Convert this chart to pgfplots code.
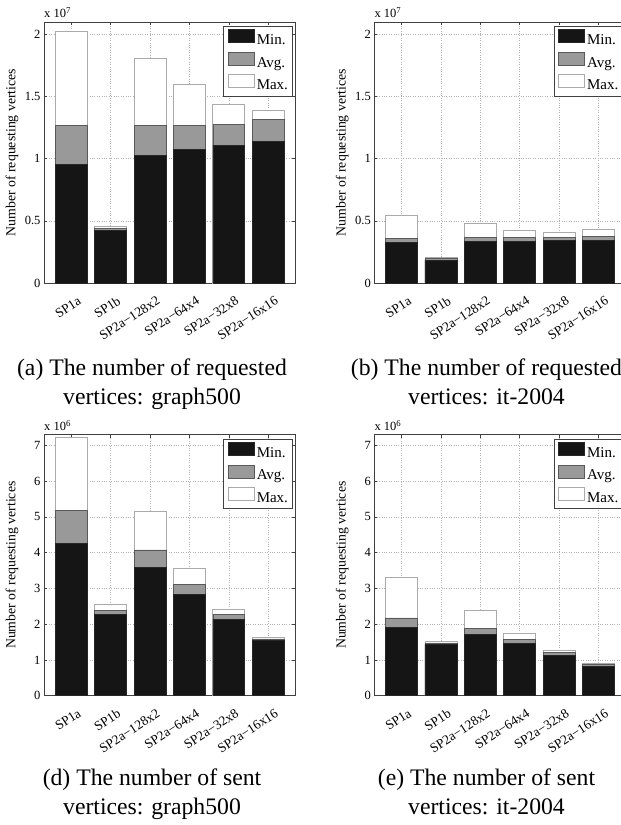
\documentclass[border=0pt]{standalone}
\usepackage{fontspec}
\setmainfont{Liberation Serif}
\usepackage{pgfplots}
\pgfplotsset{compat=1.18}
\usepackage{pgfplotstable}

\definecolor{minc}{HTML}{151515}
\definecolor{avgc}{HTML}{999999}
\definecolor{framec}{HTML}{404040}
\definecolor{maxedge}{HTML}{AAAAAA}

% columns: x, Min., Avg., Max.
\pgfplotstableread{
x mn av mx
1 0.957 1.265 2.021
2 0.421 0.440 0.453
3 1.027 1.265 1.807
4 1.078 1.268 1.598
5 1.110 1.276 1.437
6 1.137 1.319 1.391
}\dataA
\pgfplotstableread{
x mn av mx
1 0.327 0.359 0.544
2 0.185 0.196 0.204
3 0.335 0.365 0.477
4 0.335 0.365 0.421
5 0.340 0.367 0.405
6 0.340 0.375 0.429
}\dataB
\pgfplotstableread{
x mn av mx
1 4.265 5.190 7.224
2 2.268 2.380 2.548
3 3.584 4.079 5.152
4 2.837 3.117 3.575
5 2.128 2.277 2.408
6 1.540 1.587 1.633
}\dataD
\pgfplotstableread{
x mn av mx
1 1.904 2.175 3.304
2 1.437 1.475 1.512
3 1.708 1.876 2.399
4 1.456 1.568 1.745
5 1.129 1.213 1.279
6 0.821 0.877 0.915
}\dataE

\newcommand{\legfont}{\fontsize{15}{16}\selectfont}
\pgfplotsset{
  barchart/.style={
    scale only axis, width=251pt, height=261pt,
    xmin=0.31, xmax=6.68, ymin=0, clip=false,
    xtick={1,2,3,4,5,6},
    xticklabels={SP1a,SP1b,SP2a−128x2,SP2a−64x4,SP2a−32x8,SP2a−16x16},
    xticklabel style={font=\fontsize{13.4}{14}\selectfont, inner sep=0pt,
      xshift=6pt, yshift=-12.5pt, anchor=north east, rotate=33},
    yticklabel style={font=\fontsize{12.5}{14}\selectfont},
    /pgf/number format/assume math mode=true,
    scaled y ticks=false,
    tick align=inside, major tick length=3pt,
    tick style={draw=framec, line width=0.5pt},
    axis line style={draw=framec, line width=0.6pt},
    grid=major,
    major grid style={dotted, draw=gray!60, line width=0.45pt},
    every axis y label/.style={at={([xshift=-32pt]axis description cs:0,0.5)},
      rotate=90, anchor=center, font=\fontsize{13.8}{15}\selectfont},
    ylabel={Number of requesting vertices},
    legend image code/.code={\draw[##1] (0pt,-2pt) rectangle (26pt,11pt);},
    reverse legend,
    legend cell align=left,
    legend style={at={(axis description cs:1,1)}, anchor=north east,
      xshift=-2.7pt, yshift=-4pt, draw=framec, line width=0.6pt, fill=white,
      font=\legfont, inner xsep=4pt, inner ysep=3pt,
      row sep=4.3pt, column sep=2.5pt,
      nodes={inner sep=0pt, text height=11pt, text depth=3pt, font=\legfont}},
  },
  maxbar/.style={ybar, bar width=0.81, bar shift=0pt, fill=white, draw=maxedge, line width=0.7pt},
  avgbar/.style={ybar, bar width=0.81, bar shift=0pt, fill=avgc, draw=black!65, line width=0.6pt},
  minbar/.style={ybar, bar width=0.81, bar shift=0pt, fill=minc, draw=black!85, line width=0.6pt},
}

\newcommand{\capfont}{\fontsize{23.7}{29}\selectfont}
\newcommand{\expfont}{\fontsize{12.5}{14}\selectfont}

\begin{document}
\begin{tikzpicture}
\useasboundingbox (0,0) rectangle (621pt,825pt);
\clip (0,0) rectangle (621pt,825pt);

% (a)
\begin{axis}[barchart, at={(44pt,542pt)}, anchor=south west,
  ymax=2.1, ytick={0,0.5,1,1.5,2}, yticklabels={0,0.5,1,1.5,2}]
  \addplot[maxbar] table[x=x,y=mx]{\dataA}; \addlegendentry{Max.}
  \addplot[avgbar] table[x=x,y=av]{\dataA}; \addlegendentry{Avg.}
  \addplot[minbar] table[x=x,y=mn]{\dataA}; \addlegendentry{Min.}
  \node[anchor=base west, inner sep=0pt, font=\expfont] at ([yshift=4pt]rel axis cs:0,1) {x 10\textsuperscript{7}};
\end{axis}

% (b)
\begin{axis}[barchart, at={(374.3pt,542pt)}, anchor=south west,
  ymax=2.1, ytick={0,0.5,1,1.5,2}, yticklabels={0,0.5,1,1.5,2}]
  \addplot[maxbar] table[x=x,y=mx]{\dataB}; \addlegendentry{Max.}
  \addplot[avgbar] table[x=x,y=av]{\dataB}; \addlegendentry{Avg.}
  \addplot[minbar] table[x=x,y=mn]{\dataB}; \addlegendentry{Min.}
  \node[anchor=base west, inner sep=0pt, font=\expfont] at ([yshift=4pt]rel axis cs:0,1) {x 10\textsuperscript{7}};
\end{axis}

% (d)
\begin{axis}[barchart, at={(44pt,129.3pt)}, anchor=south west,
  ymax=7.3, ytick={0,1,2,3,4,5,6,7}]
  \addplot[maxbar] table[x=x,y=mx]{\dataD}; \addlegendentry{Max.}
  \addplot[avgbar] table[x=x,y=av]{\dataD}; \addlegendentry{Avg.}
  \addplot[minbar] table[x=x,y=mn]{\dataD}; \addlegendentry{Min.}
  \node[anchor=base west, inner sep=0pt, font=\expfont] at ([yshift=4pt]rel axis cs:0,1) {x 10\textsuperscript{6}};
\end{axis}

% (e)
\begin{axis}[barchart, at={(374.3pt,129.3pt)}, anchor=south west,
  ymax=7.3, ytick={0,1,2,3,4,5,6,7}]
  \addplot[maxbar] table[x=x,y=mx]{\dataE}; \addlegendentry{Max.}
  \addplot[avgbar] table[x=x,y=av]{\dataE}; \addlegendentry{Avg.}
  \addplot[minbar] table[x=x,y=mn]{\dataE}; \addlegendentry{Min.}
  \node[anchor=base west, inner sep=0pt, font=\expfont] at ([yshift=4pt]rel axis cs:0,1) {x 10\textsuperscript{6}};
\end{axis}

% captions
\node[anchor=base, inner sep=0pt, font=\capfont] at (152pt,449pt) {(a) The number of requested};
\node[anchor=base, inner sep=0pt, font=\capfont] at (152pt,420pt) {vertices: graph500};
\node[anchor=base, inner sep=0pt, font=\capfont] at (486.5pt,449pt) {(b) The number of requested};
\node[anchor=base, inner sep=0pt, font=\capfont] at (486.5pt,420pt) {vertices: it-2004};
\node[anchor=base, inner sep=0pt, font=\capfont] at (152pt,39pt) {(d) The number of sent};
\node[anchor=base, inner sep=0pt, font=\capfont] at (152pt,10pt) {vertices: graph500};
\node[anchor=base, inner sep=0pt, font=\capfont] at (486.5pt,39pt) {(e) The number of sent};
\node[anchor=base, inner sep=0pt, font=\capfont] at (486.5pt,10pt) {vertices: it-2004};
\end{tikzpicture}
\end{document}
